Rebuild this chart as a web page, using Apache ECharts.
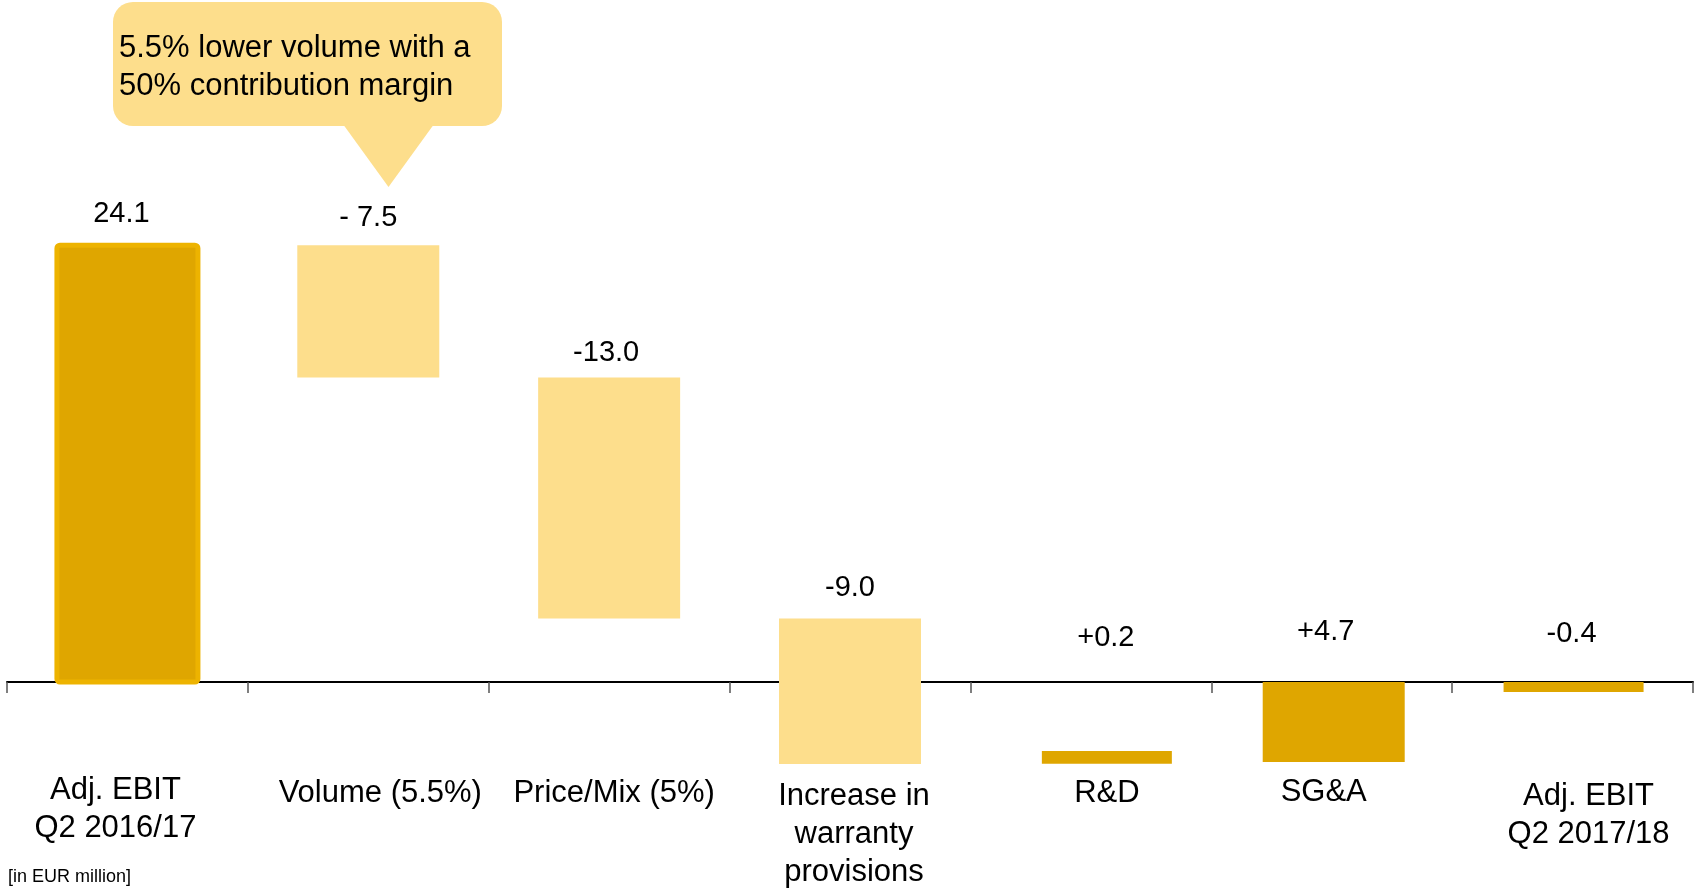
<!DOCTYPE html>
<html>
<head>
<meta charset="utf-8">
<script src="https://cdn.jsdelivr.net/npm/echarts@6/dist/echarts.min.js"></script>
<style>
  html, body { margin: 0; padding: 0; background: #fff; }
  #chart { width: 1697px; height: 888px; }
</style>
</head>
<body>
<div id="chart"></div>
<script>
// Adj. EBIT bridge Q2 2016/17 -> Q2 2017/18 [in EUR million]
const categories = [
  "Adj. EBIT\nQ2 2016/17",
  "Volume (5.5%)",
  "Price/Mix (5%)",
  "Increase in\nwarranty\nprovisions",
  "R&D",
  "SG&A",
  "Adj. EBIT\nQ2 2017/18"
];
const valueText = ["24.1", "- 7.5", "-13.0", "-9.0", "+0.2", "+4.7", "-0.4"];
// bar ends (EUR million)
const barLow = [0, 16.8, 3.5, -4.52, -4.51, -4.41, -0.55];
const barHigh = [24.09, 24.09, 16.8, 3.5, -3.81, 0, 0];
// where the value labels sit (EUR million)
const labelY = [25.83, 25.58, 18.13, 5.2, 2.41, 2.77, 2.64];
const calloutText = "5.5% lower volume with a\n50% contribution margin";

// styles
const dark = "#DFA600";
const light = "#FDDE8C";
const barColor = [dark, light, light, light, dark, dark, dark];
const barWidth = [141, 142, 142, 142, 130, 142, 140];
const barShift = [0, 0, 0, 0, 16, 2, 1];
const labelDx = [-6, 0, -3, 0, 15, -6, -1];
// small per-category nudges of the axis labels [dx, dy]
const catNudge = [[-12, 0], [12, 3], [5, 3], [4, 6], [16, 3], [-8, 2], [16, 6]];
const font = '"Liberation Sans", Arial, sans-serif';

const chart = echarts.init(document.getElementById("chart"));

const seriesData = categories.map((c, i) => [i, barLow[i], barHigh[i], labelY[i]]);

const axisData = categories.map((c, i) => {
  const dx = catNudge[i][0];
  const dy = catNudge[i][1];
  return {
    value: c,
    textStyle: { padding: [dy, dx < 0 ? -2 * dx : 0, 0, dx > 0 ? 2 * dx : 0] }
  };
});

const option = {
  animation: false,
  grid: { left: 7, right: 4, top: 138.1, bottom: 206, containLabel: false, outerBoundsMode: "none" },
  xAxis: {
    type: "category",
    data: axisData,
    axisLine: { onZero: true, lineStyle: { color: "#000", width: 2 } },
    axisTick: { show: true, length: 11, lineStyle: { color: "#555", width: 1.5 } },
    axisLabel: {
      interval: 0,
      color: "#000",
      fontSize: 31,
      lineHeight: 38,
      fontFamily: font,
      margin: 89,
      verticalAlign: "top"
    },
    splitLine: { show: false }
  },
  yAxis: {
    type: "value",
    min: 0,
    max: 30,
    show: false,
    splitLine: { show: false }
  },
  series: [
    {
      type: "custom",
      data: seriesData,
      clip: false,
      encode: { x: 0, y: [1, 2] },
      renderItem: function (params, api) {
        const i = api.value(0);
        const lo = api.coord([i, Math.min(api.value(1), api.value(2))]);
        const hi = api.coord([i, Math.max(api.value(1), api.value(2))]);
        const lab = api.coord([i, api.value(3)]);
        const w = barWidth[i];
        const first = i === 0;
        return {
          type: "group",
          children: [
            {
              type: "rect",
              shape: { x: lo[0] - w / 2 + barShift[i], y: hi[1], width: w, height: lo[1] - hi[1], r: first ? 3 : 0 },
              style: first
                ? { fill: barColor[i], stroke: "#EDB300", lineWidth: 5 }
                : { fill: barColor[i] }
            },
            {
              type: "text",
              style: {
                text: valueText[i],
                x: lab[0] + labelDx[i],
                y: lab[1],
                align: "center",
                verticalAlign: "middle",
                font: "29px " + font,
                fill: "#000"
              }
            }
          ]
        };
      }
    }
  ],
  graphic: [
    {
      type: "polygon",
      shape: { points: [[340, 120], [437, 120], [388.5, 187]] },
      style: { fill: light }
    },
    {
      type: "rect",
      shape: { x: 113, y: 2, width: 389, height: 124, r: 20 },
      style: { fill: light }
    },
    {
      type: "text",
      x: 119,
      y: 29,
      style: {
        text: calloutText,
        font: "31px " + font,
        lineHeight: 38,
        fill: "#000",
        verticalAlign: "top"
      }
    },
    {
      type: "text",
      x: 8,
      y: 877,
      style: {
        text: "[in EUR million]",
        font: "18px " + font,
        fill: "#000",
        verticalAlign: "middle"
      }
    }
  ]
};

option && chart.setOption(option);
</script>
</body>
</html>
